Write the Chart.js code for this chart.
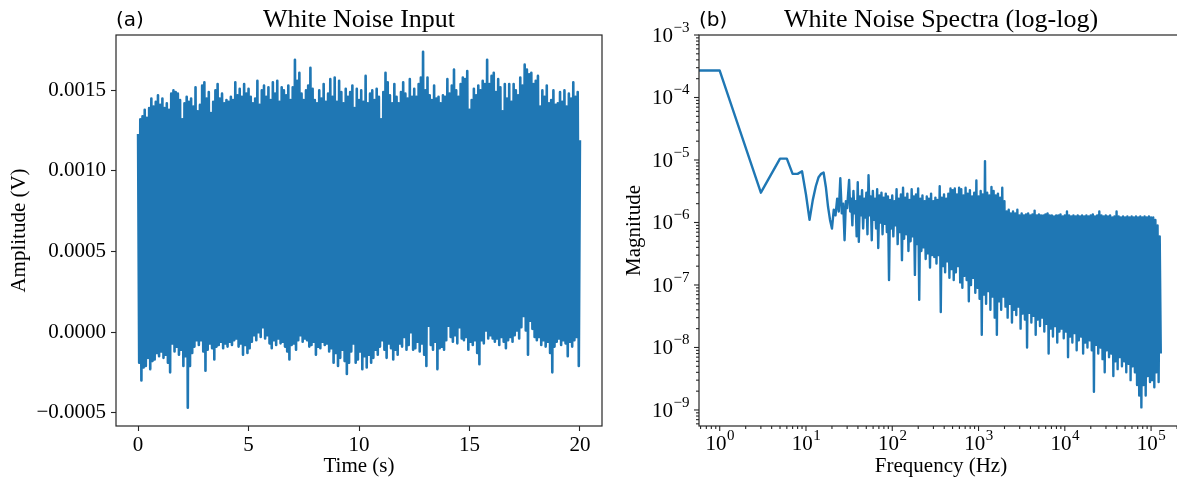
<!DOCTYPE html>
<html>
<head>
<meta charset="utf-8">
<script src="https://cdn.jsdelivr.net/npm/chart.js@4.4.1/dist/chart.umd.min.js"></script>
<style>
  html, body { margin: 0; padding: 0; background: #fff; overflow: hidden; width: 1177px; height: 483px; }
  #wrapA { position: absolute; left: 0; top: 0; width: 620px; height: 483px; }
  #wrapB { position: absolute; left: 600px; top: 0; width: 600px; height: 483px; }
</style>
</head>
<body>
<div id="wrapA"><canvas id="inputChart" width="620" height="483"></canvas></div>
<div id="wrapB"><canvas id="spectrumChart" width="600" height="483"></canvas></div>
<script>
// ---- (a) white noise input: envelope, in mV ----
// upper edge every 0.1 s from 0 to 20 s, lower edge halfway between
const sampleStep = 0.1;
const ampUpperMv = [
  1.23,1.32,1.34,1.38,1.33,1.39,1.45,1.40,1.43,1.47,
  1.41,1.45,1.39,1.42,1.38,1.48,1.50,1.49,1.48,1.44,
  1.32,1.42,1.46,1.43,1.45,1.40,1.52,1.37,1.41,1.53,
  1.55,1.45,1.49,1.36,1.43,1.50,1.54,1.45,1.48,1.42,
  1.44,1.43,1.46,1.44,1.55,1.47,1.51,1.46,1.54,1.48,
  1.51,1.46,1.42,1.45,1.56,1.41,1.50,1.53,1.46,1.52,
  1.44,1.55,1.48,1.56,1.43,1.52,1.50,1.47,1.53,1.44,
  1.52,1.69,1.56,1.61,1.48,1.44,1.50,1.53,1.64,1.51,
  1.44,1.42,1.50,1.45,1.54,1.43,1.48,1.57,1.46,1.58,
  1.43,1.56,1.49,1.42,1.51,1.46,1.49,1.53,1.39,1.51,
  1.44,1.50,1.43,1.59,1.42,1.48,1.50,1.44,1.51,1.46,
  1.32,1.49,1.61,1.55,1.47,1.42,1.54,1.46,1.42,1.49,
  1.55,1.48,1.45,1.57,1.46,1.51,1.46,1.54,1.58,1.74,
  1.50,1.58,1.47,1.44,1.53,1.45,1.46,1.42,1.47,1.46,
  1.57,1.48,1.53,1.63,1.50,1.46,1.54,1.58,1.57,1.62,
  1.38,1.44,1.51,1.47,1.53,1.50,1.56,1.54,1.69,1.54,
  1.59,1.61,1.49,1.57,1.52,1.37,1.54,1.45,1.54,1.43,
  1.54,1.50,1.47,1.58,1.53,1.66,1.63,1.60,1.61,1.54,
  1.56,1.59,1.40,1.50,1.46,1.53,1.42,1.44,1.50,1.41,
  1.42,1.49,1.43,1.50,1.40,1.48,1.45,1.55,1.46,1.49,
  1.19
];
const ampLowerMv = [
  -0.19,-0.30,-0.22,-0.21,-0.16,-0.23,-0.18,-0.17,-0.13,-0.15,
  -0.12,-0.16,-0.14,-0.19,-0.25,-0.07,-0.12,-0.09,-0.14,-0.11,
  -0.21,-0.15,-0.47,-0.21,-0.13,-0.09,-0.05,-0.08,-0.05,-0.12,
  -0.24,-0.11,-0.07,-0.10,-0.17,-0.09,-0.08,-0.06,-0.10,-0.07,
  -0.09,-0.06,-0.08,-0.05,-0.04,-0.09,-0.07,-0.14,-0.08,-0.13,
  -0.10,-0.06,-0.02,-0.05,0.00,-0.03,0.03,-0.04,-0.02,-0.07,
  -0.10,-0.05,-0.08,-0.04,-0.07,-0.06,-0.09,-0.12,-0.17,-0.08,
  -0.07,-0.11,-0.05,-0.02,-0.06,-0.04,-0.05,-0.09,-0.08,-0.06,
  -0.14,-0.09,-0.10,-0.06,-0.08,-0.07,-0.12,-0.10,-0.19,-0.13,
  -0.21,-0.16,-0.11,-0.18,-0.26,-0.19,-0.12,-0.07,-0.19,-0.17,
  -0.12,-0.23,-0.15,-0.22,-0.14,-0.19,-0.16,-0.11,-0.14,-0.09,
  -0.05,-0.11,-0.16,-0.07,-0.10,-0.17,-0.11,-0.14,-0.07,-0.09,
  -0.03,-0.11,-0.08,0.00,-0.11,-0.10,-0.06,-0.12,-0.07,-0.14,
  -0.21,0.04,-0.08,-0.11,-0.06,-0.23,-0.10,-0.09,-0.11,-0.05,
  0.04,-0.03,-0.06,-0.02,-0.07,0.03,-0.04,-0.05,-0.03,-0.11,
  -0.06,-0.08,-0.05,-0.13,-0.20,-0.05,-0.07,0.01,-0.04,-0.02,
  -0.04,-0.06,-0.04,-0.08,-0.03,-0.06,-0.10,-0.05,-0.03,-0.06,
  -0.02,0.01,-0.04,0.03,0.10,0.01,-0.14,0.07,0.02,-0.03,
  -0.05,-0.03,-0.08,-0.05,-0.09,-0.06,-0.13,-0.25,-0.09,-0.06,
  -0.04,-0.08,-0.05,-0.07,-0.15,-0.06,-0.09,-0.05,-0.03,-0.21
];
const timeTicks = [0, 5, 10, 15, 20];
const ampTicks = [-0.0005, 0, 0.0005, 0.0010, 0.0015];

// ---- (b) spectrum ----
// clean low-frequency part (0.5 Hz stands in for the DC bin)
const lowFreqHz = [0.5, 1, 3, 5, 6, 7, 8, 9, 10, 11, 12, 13, 14, 15, 16, 17, 18, 19, 20,
  21, 22, 23, 24, 25, 26, 27, 28, 29, 30];
const lowMag = [2.7e-4, 2.7e-4, 3.0e-6, 1.05e-5, 1.05e-5, 6.0e-6, 6.0e-6, 6.6e-6, 2.8e-6, 1.1e-6,
  2.3e-6, 3.8e-6, 5.3e-6, 6.0e-6, 6.3e-6, 3.7e-6, 1.8e-6, 1.1e-6, 8.0e-7,
  1.6e-6, 1.3e-6, 2.4e-6, 1.5e-6, 5.1e-6, 1.4e-6, 2.0e-6, 5.2e-7, 2.2e-6, 1.7e-6];
// dense band: upper / lower edge, log10(f) from 1.5 in steps of 0.025
const bandLogStart = 1.5;
const bandLogStep = 0.025;
const bandTop = [
  4.8e-6,2.4e-6,3.2e-6,2.2e-6,4.4e-6,2.6e-6,3.3e-6,2.4e-6,3.0e-6,5.7e-6,
  2.6e-6,3.2e-6,2.4e-6,3.4e-6,2.7e-6,3.0e-6,2.5e-6,2.9e-6,2.6e-6,2.3e-6,
  2.7e-6,2.2e-6,3.4e-6,2.4e-6,2.8e-6,3.6e-6,2.5e-6,2.9e-6,2.3e-6,3.4e-6,
  2.6e-6,2.8e-6,3.5e-6,2.4e-6,2.7e-6,2.2e-6,2.6e-6,2.4e-6,2.9e-6,2.2e-6,
  2.5e-6,2.3e-6,3.8e-6,2.5e-6,2.8e-6,2.4e-6,2.9e-6,3.5e-6,3.3e-6,3.5e-6,
  2.8e-6,3.6e-6,3.4e-6,2.7e-6,3.6e-6,2.9e-6,3.3e-6,2.6e-6,3.0e-6,4.7e-6,
  2.6e-6,3.2e-6,2.8e-6,9.6e-6,3.0e-6,2.7e-6,3.7e-6,3.2e-6,2.7e-6,2.9e-6,
  2.5e-6,3.6e-6,2.2e-6,1.5e-6,1.6e-6,1.4e-6,1.5e-6,1.4e-6,1.6e-6,1.3e-6,
  1.4e-6,1.3e-6,1.35e-6,1.4e-6,1.3e-6,1.35e-6,1.55e-6,1.3e-6,1.35e-6,1.3e-6,
  1.3e-6,1.35e-6,1.4e-6,1.3e-6,1.3e-6,1.25e-6,1.3e-6,1.3e-6,1.35e-6,1.25e-6,
  1.3e-6,1.5e-6,1.3e-6,1.25e-6,1.3e-6,1.25e-6,1.3e-6,1.25e-6,1.3e-6,1.25e-6,
  1.3e-6,1.25e-6,1.3e-6,1.35e-6,1.25e-6,1.3e-6,1.5e-6,1.3e-6,1.25e-6,1.3e-6,
  1.25e-6,1.3e-6,1.2e-6,1.25e-6,1.5e-6,1.25e-6,1.2e-6,1.25e-6,1.2e-6,1.25e-6,
  1.2e-6,1.25e-6,1.2e-6,1.25e-6,1.2e-6,1.25e-6,1.2e-6,1.25e-6,1.2e-6,1.25e-6,
  1.2e-6,1.2e-6,1.1e-6,9.0e-7,6.0e-7
];
const bandBottom = [
  1.5e-6,9.0e-7,1.4e-6,6.0e-7,4.9e-7,1.3e-6,8.0e-7,1.2e-6,6.5e-7,1.3e-6,
  5.2e-7,1.1e-6,8.0e-7,3.9e-7,1.0e-6,6.5e-7,9.5e-7,7.0e-7,1.2e-7,8.0e-7,
  6.0e-7,9.0e-7,4.5e-7,7.0e-7,2.5e-7,5.5e-7,6.5e-7,3.5e-7,5.0e-7,6.0e-7,
  1.45e-7,4.5e-7,5.8e-8,3.5e-7,4.0e-7,2.6e-7,3.2e-7,1.9e-7,3.0e-7,2.8e-7,
  2.2e-7,3.0e-7,3.7e-8,2.0e-7,1.6e-7,2.4e-7,1.3e-7,1.8e-7,1.2e-7,1.6e-7,
  2.0e-7,1.1e-7,9.0e-8,1.4e-7,1.2e-7,5.5e-8,1.0e-7,1.3e-7,7.5e-8,9.0e-8,
  6.0e-8,1.6e-8,7.0e-8,5.0e-8,8.0e-8,4.0e-8,6.5e-8,3.0e-8,1.6e-8,5.5e-8,
  4.0e-8,6.5e-8,4.5e-8,3.0e-8,5.0e-8,2.5e-8,4.0e-8,3.3e-8,4.5e-8,2.0e-8,
  3.5e-8,2.8e-8,1.0e-8,3.6e-8,2.5e-8,3.2e-8,1.6e-8,2.8e-8,2.2e-8,3.0e-8,
  1.8e-8,2.4e-8,8.0e-9,2.0e-8,1.5e-8,2.2e-8,1.2e-8,1.8e-8,2.0e-8,1.4e-8,
  1.8e-8,7.0e-9,1.5e-8,1.2e-8,1.7e-8,9.0e-9,1.3e-8,1.5e-8,8.0e-9,1.2e-8,
  1.0e-8,1.3e-8,9.0e-9,1.95e-9,1.1e-8,8.0e-9,1.0e-8,6.5e-9,4.0e-9,9.0e-9,
  7.0e-9,8.0e-9,3.5e-9,6.0e-9,4.5e-9,7.0e-9,5.0e-9,6.0e-9,4.0e-9,5.5e-9,
  3.0e-9,5.0e-9,4.0e-9,2.5e-9,1.7e-9,1.1e-9,2.5e-9,1.7e-9,3.5e-9,2.8e-9,
  3.0e-9,2.3e-9,4.0e-9,2.8e-9,8.0e-9
];
const freqTickExps = [0, 1, 2, 3, 4, 5];
const magTickExps = [-9, -8, -7, -6, -5, -4, -3];

const BLUE = '#1f77b4';
const INK = '#262626';
const SERIF = '"Liberation Serif", "Times New Roman", serif';

// ---- build the point lists ----
const inputPoints = [];
ampUpperMv.forEach((v, i) => {
  inputPoints.push({ x: i * sampleStep, y: v / 1000 });
  if (i < ampLowerMv.length) inputPoints.push({ x: (i + 0.5) * sampleStep, y: ampLowerMv[i] / 1000 });
});

const spectrumPoints = lowFreqHz.map((f, i) => ({ x: f, y: lowMag[i] }));
bandTop.forEach((v, i) => {
  const lf = bandLogStart + i * bandLogStep;
  spectrumPoints.push({ x: Math.pow(10, lf), y: v });
  spectrumPoints.push({ x: Math.pow(10, lf + bandLogStep / 2), y: bandBottom[i] });
});

// frame, title and the "(a)"/"(b)" tag
const framePlugin = {
  id: 'frame',
  afterDraw(chart, args, opts) {
    const { ctx, chartArea: a } = chart;
    ctx.save();
    ctx.strokeStyle = INK;
    ctx.lineWidth = 1.2;
    ctx.strokeRect(a.left, a.top, a.right - a.left, a.bottom - a.top);
    ctx.fillStyle = '#000';
    ctx.textBaseline = 'alphabetic';
    ctx.font = '26px ' + SERIF;
    ctx.textAlign = 'center';
    ctx.fillText(opts.title, (a.left + a.right) / 2, 27);
    ctx.font = '20px "DejaVu Sans", sans-serif';
    ctx.textAlign = 'left';
    ctx.fillText(opts.tag, a.left, 26);
    ctx.restore();
  }
};

function supText(e) {
  return e < 0 ? '\u2212' + (-e) : String(e);
}

function drawPow(ctx, e, x, baseline, align) {
  ctx.font = '21px ' + SERIF;
  const wb = ctx.measureText('10').width;
  ctx.font = '15px ' + SERIF;
  const es = supText(e);
  const we = ctx.measureText(es).width;
  const x0 = align === 'center' ? x - (wb + we) / 2 : x - wb - we;
  ctx.font = '21px ' + SERIF;
  ctx.fillText('10', x0, baseline);
  ctx.font = '15px ' + SERIF;
  ctx.fillText(es, x0 + wb + 0.5, baseline - 10);
}

// log ticks (major + minor) and 10^n labels for the spectrum
const logAxisPlugin = {
  id: 'logAxis',
  afterDraw(chart) {
    const { ctx, chartArea: a, scales: { x, y } } = chart;
    ctx.save();
    ctx.strokeStyle = INK;
    ctx.lineWidth = 1.1;
    const seg = (x1, y1, x2, y2) => { ctx.beginPath(); ctx.moveTo(x1, y1); ctx.lineTo(x2, y2); ctx.stroke(); };
    for (let d = -1; d <= 5; d++) {
      for (let k = 1; k <= 9; k++) {
        const f = k * Math.pow(10, d);
        if (f < x.min || f > x.max) continue;
        const px = x.getPixelForValue(f);
        seg(px, a.bottom, px, a.bottom + (k === 1 ? 5 : 3));
      }
    }
    for (let d = -10; d <= -3; d++) {
      for (let k = 1; k <= 9; k++) {
        const m = k * Math.pow(10, d);
        if (m < y.min || m > y.max * 1.0001) continue;
        const py = y.getPixelForValue(m);
        seg(a.left, py, a.left - (k === 1 ? 5 : 3), py);
      }
    }
    ctx.fillStyle = '#000';
    ctx.textBaseline = 'alphabetic';
    ctx.textAlign = 'left';
    freqTickExps.forEach(e => {
      drawPow(ctx, e, x.getPixelForValue(Math.pow(10, e)), a.bottom + 24, 'center');
    });
    magTickExps.forEach(e => {
      drawPow(ctx, e, a.left - 10, y.getPixelForValue(Math.pow(10, e)) + 7, 'right');
    });
    ctx.restore();
  }
};

const tickFont = { family: SERIF, size: 21 };
const labelFont = { family: SERIF, size: 21 };

new Chart(document.getElementById('inputChart'), {
  type: 'line',
  data: {
    datasets: [{
      data: inputPoints,
      borderColor: BLUE,
      borderWidth: 2.6,
      pointRadius: 0,
      tension: 0,
      fill: false,
      borderJoinStyle: 'round'
    }]
  },
  options: {
    responsive: false,
    animation: false,
    events: [],
    layout: { padding: { left: 0, top: 35, right: 18, bottom: 0 } },
    plugins: {
      legend: { display: false },
      tooltip: { enabled: false },
      frame: { title: 'White Noise Input', tag: '(a)' }
    },
    scales: {
      x: {
        type: 'linear',
        min: -1,
        max: 21,
        afterBuildTicks: s => { s.ticks = timeTicks.map(v => ({ value: v })); },
        afterFit: s => { s.height = 57; },
        grid: { drawOnChartArea: false, drawTicks: true, tickLength: 5, tickColor: INK, tickWidth: 1.1 },
        border: { display: false },
        ticks: { font: tickFont, color: '#000', padding: 2, maxRotation: 0, autoSkip: false },
        title: { display: true, text: 'Time (s)', font: labelFont, color: '#000', padding: { top: 0, bottom: 4 } }
      },
      y: {
        type: 'linear',
        min: -0.000583,
        max: 0.001844,
        afterBuildTicks: s => { s.ticks = ampTicks.map(v => ({ value: v })); },
        afterFit: s => { s.width = 116; },
        grid: { drawOnChartArea: false, drawTicks: true, tickLength: 5, tickColor: INK, tickWidth: 1.1 },
        border: { display: false },
        ticks: {
          font: tickFont, color: '#000', padding: 5, autoSkip: false,
          callback: v => (v < 0 ? '\u2212' : '') + Math.abs(v).toFixed(4)
        },
        title: { display: true, text: 'Amplitude (V)', font: labelFont, color: '#000', padding: { top: 7, bottom: 0 } }
      }
    }
  },
  plugins: [framePlugin]
});

new Chart(document.getElementById('spectrumChart'), {
  type: 'line',
  data: {
    datasets: [{
      data: spectrumPoints,
      borderColor: BLUE,
      borderWidth: 2.4,
      pointRadius: 0,
      tension: 0,
      fill: false,
      borderJoinStyle: 'round'
    }]
  },
  options: {
    responsive: false,
    animation: false,
    events: [],
    layout: { padding: { left: 0, top: 35, right: 17, bottom: 0 } },
    plugins: {
      legend: { display: false },
      tooltip: { enabled: false },
      frame: { title: 'White Noise Spectra (log-log)', tag: '(b)' }
    },
    scales: {
      x: {
        type: 'logarithmic',
        min: Math.pow(10, -0.24),
        max: Math.pow(10, 5.37),
        afterFit: s => { s.height = 57; },
        grid: { display: false },
        border: { display: false },
        ticks: { display: false },
        title: { display: true, text: 'Frequency (Hz)', font: labelFont, color: '#000', padding: { top: 0, bottom: 4 } }
      },
      y: {
        type: 'logarithmic',
        min: 5.54e-10,
        max: 1e-3,
        afterFit: s => { s.width = 99; },
        grid: { display: false },
        border: { display: false },
        ticks: { display: false },
        title: { display: true, text: 'Magnitude', font: labelFont, color: '#000', padding: { top: 22, bottom: 0 } }
      }
    }
  },
  plugins: [framePlugin, logAxisPlugin]
});
</script>
</body>
</html>
